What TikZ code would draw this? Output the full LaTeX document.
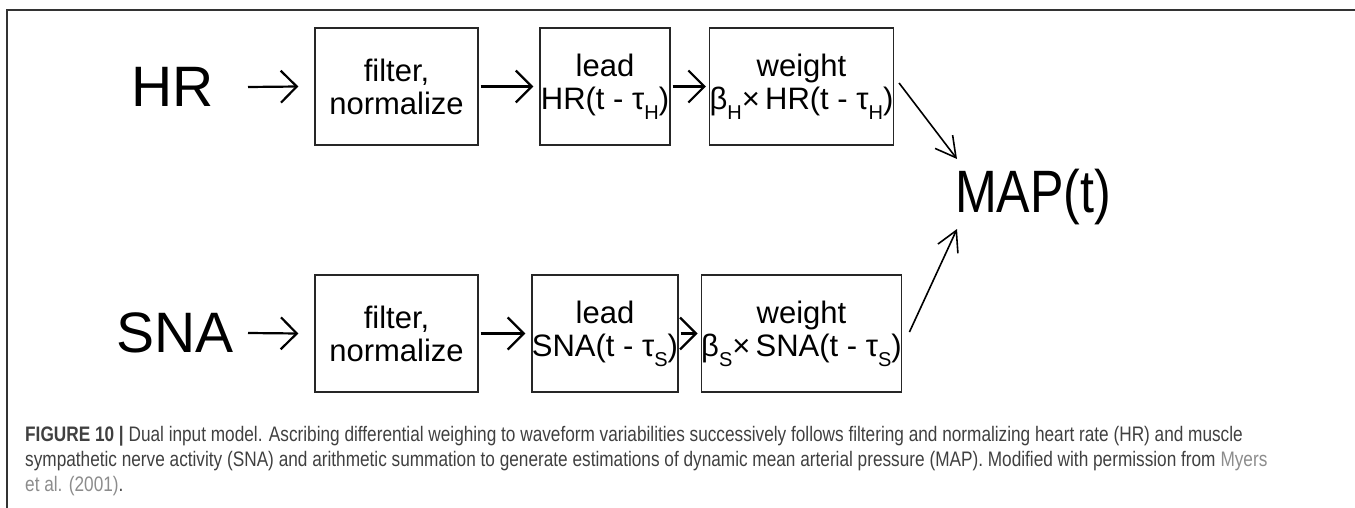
\documentclass[tikz,border=0pt]{standalone}
\usepackage{fontspec}
\setmainfont{Liberation Sans}
\newfontfamily\capfont[FakeStretch=0.82]{Liberation Sans}
\usetikzlibrary{arrows.meta}
\newcommand{\sbs}[1]{\raisebox{-0.32em}{\fontsize{20}{20}\selectfont #1}}
\definecolor{captxt}{HTML}{404040}
\definecolor{linkc}{HTML}{8C8C8C}
\tikzset{
  box/.style={draw=black!85, line width=1.3pt, minimum width=#1, minimum height=117pt, inner sep=0pt, align=center, font=\fontsize{31}{33}\selectfont},
  big/.style={inner sep=0pt, font=\fontsize{57}{60}\selectfont},
  tipbarb/.tip={Straight Barb[length=16pt,width=32pt,line width=2.2pt]},
  arr/.style={line width=2.2pt, -tipbarb},
  darr/.style={line width=1.6pt, -{Straight Barb[length=20pt,width=22pt,line width=1.6pt]}},
  capline/.style={anchor=base west, inner sep=0pt, text=captxt, font=\capfont\fontsize{21}{24}\selectfont}
}
\begin{document}
\begin{tikzpicture}[x=1pt,y=-1pt]
\useasboundingbox (0,0) rectangle (1355,508);
% frame
\draw[line width=1.6pt, black!80] (7,508) -- (7,10) -- (1355,10);
% top row
\node[big, anchor=east] (hr) at (214,87) {HR};
\node[box=163pt] (f1) at (396.5,86.5) {filter,\\normalize};
\node[box=130pt] (l1) at (605,86.5) {lead\\HR(t - τ\sbs{H})};
\node[box=183pt] (w1) at (801.5,86.5) {weight\\β\sbs{H}×\,HR(t - τ\sbs{H})};
% bottom row
\node[big, anchor=east] (sna) at (234,333) {SNA};
\node[box=163pt] (f2) at (396.5,333.5) {filter,\\normalize};
\node[box=130pt] (l2) at (605,333.5) {lead\\SNA(t - τ\sbs{S})};
\node[box=183pt] (w2) at (801.5,333.5) {weight\\β\sbs{S}×\,SNA(t - τ\sbs{S})};
% output
\node[big, anchor=west] (map) at (955,197) {\scalebox{0.88}[1.05]{MAP(t)}};
% arrows
\draw[arr] ([xshift=34pt]hr.east) -- ([xshift=-16pt]f1.west);
\draw[arr] ([xshift=14pt]sna.east) -- ([xshift=-16pt]f2.west);
\draw[arr] ([xshift=2pt]f1.east) -- ([xshift=-6pt]l1.west);
\draw[arr] ([xshift=2pt]f2.east) -- ([xshift=-6pt]l2.west);
\draw[arr] ([xshift=2pt]l1.east) -- ([xshift=-3pt]w1.west);
\draw[arr] ([xshift=2pt]l2.east) -- ([xshift=-3pt]w2.west);
\draw[darr] ([xshift=5pt,yshift=3.5pt]w1.east) -- ([xshift=2pt,yshift=38pt]map.west);
\draw[darr] ([xshift=7pt,yshift=1.5pt]w2.east) -- ([xshift=2pt,yshift=-32pt]map.west);
% caption
\node[capline] (c1) at (25,441) {\textbf{FIGURE 10 |} Dual input model. Ascribing differential weighing to waveform variabilities successively follows filtering and normalizing heart rate (HR) and muscle};
\node[capline] (c2) at (25,466) {sympathetic nerve activity (SNA) and arithmetic summation to generate estimations of dynamic mean arterial pressure (MAP). Modified with permission from \textcolor{linkc}{Myers}};
\node[capline] (c3) at (25,491) {\textcolor{linkc}{et al. (2001)}.};
\end{tikzpicture}
\end{document}
